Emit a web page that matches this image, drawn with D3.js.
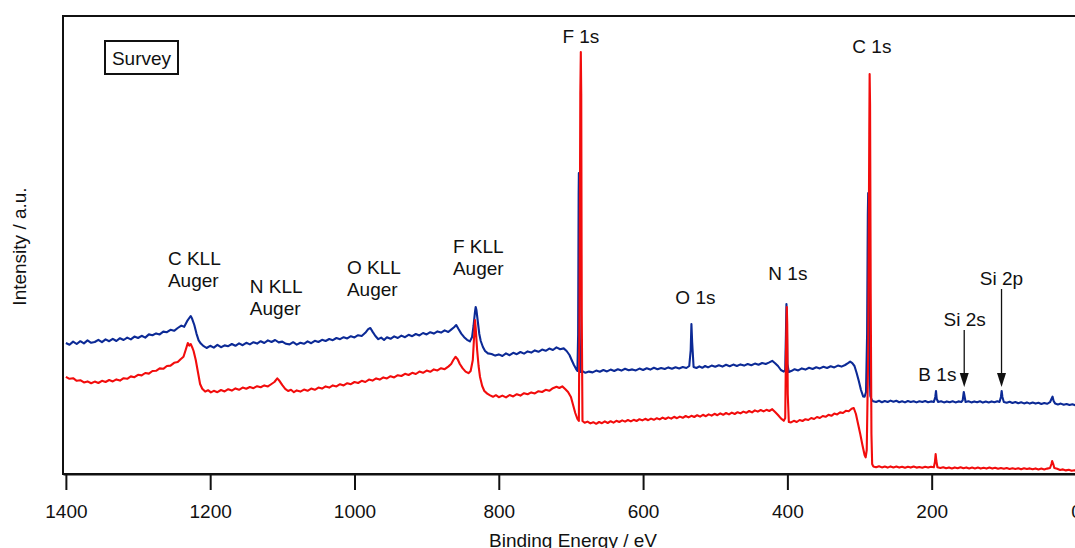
<!DOCTYPE html>
<html>
<head>
<meta charset="utf-8">
<script src="https://cdn.jsdelivr.net/npm/d3@7"></script>
<style>
  html, body { margin: 0; padding: 0; background: #fff; }
  svg { display: block; font-family: Arial, "Liberation Sans", sans-serif; }
</style>
</head>
<body>
<svg id="chart" width="1075" height="548"></svg>
<script>
// XPS survey spectra: [binding energy (eV), intensity (a.u.)]
const energyTicks = [1400, 1200, 1000, 800, 600, 400, 200, 0];

const spectrumBlue = [
  [1400,65.5],[1395,64.6],[1390,66.2],[1385,65.0],[1380,66.4],[1375,65.3],[1370,66.8],[1365,65.6],
  [1360,66.0],[1355,67.1],[1350,65.9],[1345,67.3],[1340,66.4],[1335,67.6],[1330,66.5],[1325,67.9],
  [1320,67.0],[1315,68.2],[1310,67.3],[1305,68.7],[1300,68.0],[1295,69.1],[1290,68.2],[1285,69.8],
  [1280,69.4],[1275,70.3],[1270,69.8],[1265,71.2],[1260,70.9],[1255,72.1],[1250,71.6],[1245,73.0],
  [1240,74.2],[1236,73.6],[1232,76.4],[1229,78.0],[1227,79.0],[1225,77.6],[1222,74.5],[1219,70.2],
  [1216,66.8],[1213,65.2],[1210,64.2],[1205,63.0],[1200,64.1],[1195,63.2],[1190,64.6],[1185,63.4],
  [1180,64.3],[1175,63.9],[1170,65.0],[1165,64.1],[1160,65.3],[1155,64.4],[1150,65.6],[1145,64.8],
  [1140,65.9],[1135,65.2],[1130,66.4],[1125,65.5],[1120,66.8],[1115,66.0],[1110,67.0],[1105,65.8],
  [1100,66.2],[1095,65.1],[1090,64.8],[1085,65.9],[1080,64.7],[1075,65.6],[1070,65.1],[1065,66.3],
  [1060,65.4],[1055,66.6],[1050,66.0],[1045,67.1],[1040,66.5],[1035,67.5],[1030,66.9],[1025,68.0],
  [1020,67.4],[1015,68.4],[1010,67.8],[1005,68.9],[1000,68.3],[995,69.4],[990,69.0],[985,70.6],
  [981,72.4],[978,73.0],[975,71.2],[971,69.0],[967,67.4],[963,68.2],[959,67.0],[955,68.4],
  [950,67.6],[945,68.8],[940,68.0],[935,69.2],[930,68.4],[925,69.6],[920,68.9],[915,70.0],
  [910,69.3],[905,70.5],[900,69.8],[895,70.9],[890,70.2],[885,71.3],[880,70.7],[875,71.8],
  [870,71.0],[866,72.2],[862,73.4],[859,74.5],[856,72.6],[852,70.2],[848,68.4],[844,67.1],
  [840,66.3],[837,68.5],[835,74.0],[833,81.0],[832,83.5],[831,82.0],[829,76.0],[827,70.0],
  [825,66.5],[822,63.5],[819,61.5],[815,60.3],[810,60.0],[805,59.2],[800,59.8],[795,59.0],
  [790,60.3],[785,59.4],[780,60.6],[775,59.9],[770,61.0],[765,60.2],[760,61.3],[755,60.7],
  [750,61.8],[745,61.1],[740,62.2],[735,61.6],[730,62.7],[725,62.0],[720,63.3],[715,62.4],
  [710,62.8],[706,61.5],[702,59.5],[699,57.0],[696,54.6],[693,52.6],[691,51.5],[690,70.0],
  [689.3,140.0],[689,150.5],[688.6,130.0],[688,75.0],[687,51.0],[684,51.4],[680,50.6],[675,51.2],
  [670,50.8],[665,51.7],[660,51.1],[655,52.0],[650,51.3],[645,52.2],[640,51.5],[635,52.4],
  [630,51.7],[625,52.6],[620,51.9],[615,52.3],[610,51.8],[605,52.7],[600,52.0],[595,52.9],
  [590,52.2],[585,53.1],[580,52.4],[575,53.0],[570,52.5],[565,53.3],[560,52.6],[555,53.4],
  [550,52.8],[545,53.5],[540,53.0],[536,54.0],[534,62.0],[533,75.0],[532,66.0],[530,53.5],
  [526,53.0],[522,53.8],[518,53.1],[514,54.0],[510,53.3],[505,54.2],[500,53.6],[495,54.4],
  [490,53.7],[485,54.6],[480,53.9],[475,54.7],[470,54.0],[465,54.8],[460,54.2],[455,55.0],
  [450,54.4],[445,55.2],[440,54.6],[435,55.5],[430,55.0],[425,55.8],[421,56.6],[417,55.4],
  [413,54.0],[409,52.0],[405,51.2],[403,52.0],[402,70.0],[401.3,85.0],[400.8,78.0],[400,55.0],
  [398,51.0],[394,51.6],[390,52.4],[385,51.8],[380,52.8],[375,52.2],[370,53.1],[365,52.5],
  [360,53.4],[355,52.8],[350,53.6],[345,53.0],[340,53.9],[335,53.3],[330,54.2],[325,53.7],
  [320,54.5],[316,55.4],[313,56.2],[310,55.4],[307,54.0],[304,50.5],[301,46.5],[298,42.0],
  [295,38.8],[293,38.6],[291,41.0],[289.5,70.0],[288.5,130.0],[288,140.5],[287.5,125.0],[286.5,60.0],
  [285,39.0],[283,37.0],[281,36.4],[277,36.0],[273,36.6],[269,35.9],[265,36.5],[261,36.0],
  [257,36.7],[253,36.1],[249,36.6],[245,35.9],[241,36.4],[237,35.8],[233,36.5],[229,36.0],
  [225,36.4],[221,35.8],[217,36.4],[213,36.0],[209,36.5],[205,35.9],[201,36.3],[197,36.0],
  [195,38.5],[194,41.5],[193,37.5],[191,36.0],[187,36.4],[183,35.8],[179,36.3],[175,35.9],
  [171,36.4],[167,35.8],[163,36.3],[159,36.0],[157,36.8],[155.5,41.0],[154.5,39.0],[153,36.0],
  [149,36.4],[145,35.8],[141,36.3],[137,35.9],[133,36.4],[129,35.7],[125,36.2],[121,35.8],
  [117,36.3],[113,35.9],[109,36.4],[106,36.0],[104,38.5],[103,41.5],[102,38.5],[100,36.0],
  [96,35.6],[92,36.1],[88,35.5],[84,36.0],[80,35.4],[76,35.9],[72,35.3],[68,35.8],
  [64,35.2],[60,35.7],[56,35.2],[52,35.6],[48,35.0],[44,35.5],[40,35.1],[36,35.9],
  [34,37.5],[32.5,38.7],[31,36.5],[29,35.3],[25,34.8],[21,35.2],[17,34.6],[13,35.0],
  [9,34.5],[5,34.9],[1,34.4],[0,34.6]
];

const spectrumRed = [
  [1400,48.6],[1395,47.6],[1390,47.9],[1385,46.6],[1380,46.9],[1375,45.8],[1370,46.3],[1365,45.4],
  [1360,46.2],[1355,45.5],[1350,46.6],[1345,46.0],[1340,47.0],[1335,46.3],[1330,47.3],[1325,46.7],
  [1320,47.9],[1315,47.6],[1310,48.8],[1305,48.4],[1300,49.6],[1295,49.3],[1290,50.5],[1285,50.2],
  [1280,51.5],[1275,51.6],[1270,52.8],[1265,52.6],[1260,54.0],[1255,54.2],[1250,55.6],[1245,56.0],
  [1241,57.4],[1237,58.6],[1234,62.0],[1231,65.5],[1229,64.2],[1227,65.0],[1225,63.4],[1223,61.5],
  [1220,57.0],[1217,51.0],[1214,45.0],[1211,42.6],[1207,41.2],[1203,41.9],[1199,40.8],[1195,41.6],
  [1190,40.9],[1185,42.0],[1180,41.3],[1175,42.4],[1170,41.7],[1165,42.8],[1160,42.1],[1155,43.2],
  [1150,42.6],[1145,43.5],[1140,42.9],[1135,43.9],[1130,43.4],[1125,44.3],[1120,43.8],[1115,45.0],
  [1111,46.0],[1107,47.8],[1104,46.6],[1100,44.4],[1096,42.6],[1092,41.5],[1088,42.1],[1084,40.9],
  [1080,41.8],[1075,41.2],[1070,42.2],[1065,41.6],[1060,42.7],[1055,42.1],[1050,43.2],[1045,42.7],
  [1040,43.8],[1035,43.2],[1030,44.3],[1025,43.8],[1020,44.9],[1015,44.3],[1010,45.4],[1005,44.9],
  [1000,46.0],[995,45.5],[990,46.6],[985,46.0],[980,47.2],[975,46.7],[970,47.8],[965,47.2],
  [960,48.3],[955,47.8],[950,48.9],[945,48.3],[940,49.4],[935,49.0],[930,50.1],[925,49.5],
  [920,50.6],[915,50.0],[910,51.2],[905,50.6],[900,51.7],[895,51.1],[890,52.3],[885,51.8],
  [880,52.9],[875,52.4],[870,53.7],[866,55.0],[863,57.0],[860,58.6],[857,57.4],[854,55.0],
  [850,52.8],[846,51.2],[842,50.4],[839,51.5],[836,57.0],[834,70.0],[833,77.0],[832,73.0],
  [830,62.0],[828,54.0],[826,48.5],[823,44.0],[820,41.5],[816,40.2],[812,39.3],[808,38.6],
  [804,39.4],[800,38.4],[795,39.2],[790,38.3],[785,39.5],[780,38.8],[775,39.9],[770,39.2],
  [765,40.4],[760,39.9],[755,40.8],[750,40.3],[745,41.4],[740,41.0],[735,42.1],[730,41.6],
  [725,42.9],[720,43.6],[716,43.0],[712,43.8],[708,42.5],[704,41.0],[700,38.5],[697,34.5],
  [694,30.5],[691,27.5],[689,26.5],[688,90.0],[687,190.0],[686.3,211.0],[685.7,190.0],[685,80.0],
  [684,26.5],[681,25.6],[677,26.2],[673,25.3],[669,25.9],[665,25.1],[661,26.0],[657,25.4],
  [653,26.3],[649,25.5],[645,26.4],[641,25.7],[637,26.6],[633,26.0],[629,26.8],[625,26.2],
  [621,27.0],[617,26.3],[613,27.1],[609,26.5],[605,27.4],[601,26.8],[597,27.6],[593,26.9],
  [589,27.7],[585,27.1],[581,27.9],[577,27.3],[573,28.2],[569,27.5],[565,28.3],[561,27.7],
  [557,28.6],[553,27.9],[549,28.7],[545,28.1],[541,29.0],[537,28.3],[533,29.1],[529,28.5],
  [525,29.4],[521,28.7],[517,29.6],[513,28.9],[509,29.8],[505,29.2],[501,30.1],[497,29.4],
  [493,30.3],[489,29.6],[485,30.5],[481,29.8],[477,30.7],[473,30.0],[469,30.9],[465,30.3],
  [461,31.2],[457,30.6],[453,31.5],[449,30.8],[445,31.8],[441,31.2],[437,32.0],[433,31.3],
  [429,32.1],[425,31.5],[421,32.4],[417,31.0],[413,29.5],[409,27.8],[405,26.6],[403,28.0],
  [402,60.0],[400.8,83.5],[400.2,75.0],[399.5,40.0],[398,26.0],[395,25.8],[391,26.6],[387,26.0],
  [383,27.0],[379,26.5],[375,27.4],[371,27.0],[367,28.0],[363,27.5],[359,28.5],[355,28.0],
  [351,29.0],[347,28.6],[343,29.6],[339,29.1],[335,30.2],[331,29.8],[327,30.8],[323,30.5],
  [319,31.6],[315,31.4],[311,32.6],[308,33.0],[305,30.0],[302,25.0],[299,20.0],[296,14.5],
  [293,9.5],[291.5,8.3],[290,12.0],[288,60.0],[286.5,170.0],[286,200.0],[285.4,185.0],[284.5,90.0],
  [283.5,20.0],[282.5,5.0],[281,3.8],[277,3.4],[273,3.9],[269,3.3],[265,3.7],[261,3.2],
  [257,3.8],[253,3.3],[249,3.7],[245,3.2],[241,3.6],[237,3.1],[233,3.6],[229,3.2],
  [225,3.7],[221,3.2],[217,3.5],[213,3.1],[209,3.6],[205,3.2],[201,3.6],[197,3.4],
  [195.5,6.0],[194.5,10.0],[193.5,6.5],[192,3.4],[188,3.0],[184,3.4],[180,2.9],[176,3.3],
  [172,2.8],[168,3.3],[164,2.9],[160,3.4],[156,2.9],[152,3.3],[148,2.8],[144,3.2],
  [140,2.8],[136,3.2],[132,2.7],[128,3.1],[124,2.7],[120,3.2],[116,2.7],[112,3.1],
  [108,2.6],[104,3.0],[100,2.6],[96,3.0],[92,2.5],[88,2.9],[84,2.5],[80,2.9],
  [76,2.4],[72,2.9],[68,2.5],[64,2.8],[60,2.4],[56,2.8],[52,2.3],[48,2.7],
  [44,2.3],[40,2.7],[36,3.0],[34,5.0],[33,6.5],[31.5,5.0],[30,3.0],[26,2.6],
  [22,2.0],[18,2.3],[14,1.8],[10,2.1],[6,1.6],[2,1.9],[0,1.6]
];

// Core-level labels: centred at [binding energy, intensity]
const peakLabels = [
  { text: "F 1s",  be: 686.2, level: 215.5 },
  { text: "C 1s",  be: 282.9, level: 210.5 },
  { text: "O 1s",  be: 527.5, level: 84.9 },
  { text: "N 1s",  be: 399.3, level: 97.0 },
  { text: "B 1s",  be: 192.1, level: 46.7 },
  { text: "Si 2s", be: 154.4, level: 74.0 },
  { text: "Si 2p", be: 103.4, level: 94.5 }
];

// Auger labels (two lines, left aligned)
const augerLabels = [
  { lines: ["C KLL", "Auger"], be: 1258.6, level: 104.5 },
  { lines: ["N KLL", "Auger"], be: 1145.0, level: 90.4 },
  { lines: ["O KLL", "Auger"], be: 1010.5, level: 100.0 },
  { lines: ["F KLL", "Auger"], be: 863.6, level: 110.4 }
];

// Pointer arrows for the weak Si lines
const arrowMarks = [
  { be: 154.9, from: 72.0, to: 43.5 },
  { be: 103.2, from: 92.5, to: 43.5 }
];

const svg = d3.select("#chart");
const plot = { left: 63, top: 16, right: 1078, bottom: 474 };
const ink = "#111";
const fontSize = 19;

const x = d3.scaleLinear().domain([1404, -2.8]).range([plot.left, plot.right]);
const y = d3.scaleLinear().domain([0, 229]).range([plot.bottom, plot.top]);

svg.append("defs").append("clipPath").attr("id", "plotClip")
  .append("rect")
  .attr("x", plot.left).attr("y", plot.top)
  .attr("width", plot.right - plot.left).attr("height", plot.bottom - plot.top);

// Spectra
const line = d3.line().x(d => x(d[0])).y(d => y(d[1]));
const traces = svg.append("g").attr("clip-path", "url(#plotClip)");
traces.append("path").datum(spectrumBlue)
  .attr("d", line).attr("fill", "none")
  .attr("stroke", "#0c2a96").attr("stroke-width", 2.1)
  .attr("stroke-linejoin", "round");
traces.append("path").datum(spectrumRed)
  .attr("d", line).attr("fill", "none")
  .attr("stroke", "#f20c0c").attr("stroke-width", 2.1)
  .attr("stroke-linejoin", "round");

// Frame
svg.append("rect")
  .attr("x", plot.left).attr("y", plot.top)
  .attr("width", plot.right - plot.left + 10).attr("height", plot.bottom - plot.top)
  .attr("fill", "none").attr("stroke", ink).attr("stroke-width", 2);

// Bottom axis
const xAxis = d3.axisBottom(x).tickValues(energyTicks)
  .tickFormat(d3.format("d"))
  .tickSize(16).tickSizeOuter(0).tickPadding(14.5);
const gx = svg.append("g").attr("transform", `translate(0,${plot.bottom})`).call(xAxis);
gx.select(".domain").attr("stroke", ink).attr("stroke-width", 2);
gx.selectAll(".tick line").attr("stroke", ink).attr("stroke-width", 2);
gx.selectAll(".tick text")
  .attr("fill", ink).style("font-size", fontSize + "px")
  .style("font-family", "Arial, 'Liberation Sans', sans-serif");

// Axis titles
svg.append("text")
  .attr("x", (plot.left + plot.right) / 2 + 2.5).attr("y", 546.5)
  .attr("text-anchor", "middle").attr("fill", ink)
  .style("font-size", fontSize + "px")
  .text("Binding Energy / eV");

svg.append("text")
  .attr("transform", `translate(26,${(plot.top + plot.bottom) / 2 + 1.5}) rotate(-90)`)
  .attr("text-anchor", "middle").attr("fill", ink)
  .style("font-size", fontSize + "px")
  .text("Intensity / a.u.");

// Survey tag
const tag = svg.append("g").attr("transform", `translate(${plot.left + 42},${plot.top + 25})`);
tag.append("rect").attr("width", 73).attr("height", 33)
  .attr("fill", "#fff").attr("stroke", ink).attr("stroke-width", 2);
tag.append("text").attr("x", 36.5).attr("y", 24)
  .attr("text-anchor", "middle").attr("fill", ink)
  .style("font-size", fontSize + "px").text("Survey");

// Peak labels
svg.append("g").selectAll("text").data(peakLabels).join("text")
  .attr("x", d => x(d.be)).attr("y", d => y(d.level))
  .attr("text-anchor", "middle").attr("fill", ink)
  .style("font-size", fontSize + "px")
  .text(d => d.text);

// Auger labels
const aug = svg.append("g").selectAll("text").data(augerLabels).join("text")
  .attr("x", d => x(d.be)).attr("y", d => y(d.level))
  .attr("fill", ink).style("font-size", fontSize + "px");
aug.selectAll("tspan").data(d => d.lines.map(t => ({ t, be: d.be }))).join("tspan")
  .attr("x", d => x(d.be))
  .attr("dy", (d, i) => i === 0 ? 0 : 22)
  .text(d => d.t);

// Arrows
const arrows = svg.append("g");
arrowMarks.forEach(a => {
  const ax = x(a.be), y0 = y(a.from), y1 = y(a.to);
  const headLen = 14, headHalf = 4.5;
  arrows.append("line")
    .attr("x1", ax).attr("x2", ax)
    .attr("y1", y0).attr("y2", y1 - headLen + 2)
    .attr("stroke", ink).attr("stroke-width", 1.3);
  arrows.append("path")
    .attr("d", `M${ax},${y1} L${ax - headHalf},${y1 - headLen} L${ax + headHalf},${y1 - headLen} Z`)
    .attr("fill", ink);
});
</script>
</body>
</html>
